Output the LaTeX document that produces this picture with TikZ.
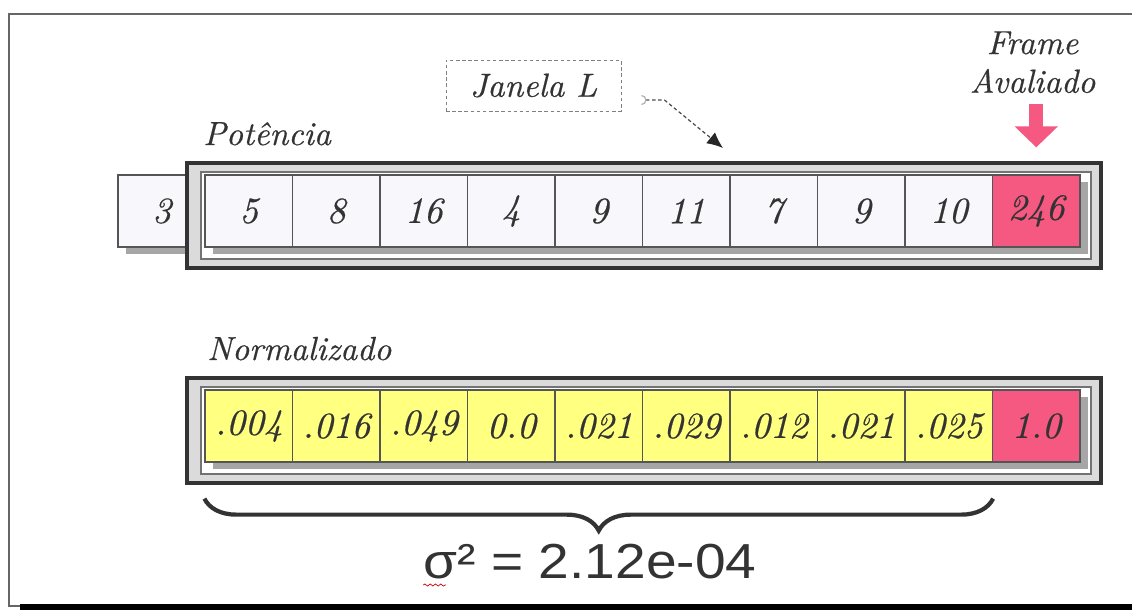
\documentclass[tikz,border=0pt]{standalone}
\usepackage{fontspec}
\setmainfont{lmroman10-regular.otf}[ItalicFont=lmroman10-italic.otf, ItalicFeatures={FakeBold=0.5}]
\newfontfamily\sigmafont{Liberation Sans}[FakeStretch=1.12]
\usetikzlibrary{positioning,shadows,arrows.meta,decorations.pathreplacing,decorations.pathmorphing}

\definecolor{celfundo}{RGB}{248,248,252}
\definecolor{amarelo}{RGB}{255,255,128}
\definecolor{rosa}{RGB}{245,88,128}
\definecolor{borda}{RGB}{85,85,85}

\tikzset{
  cel/.style={draw=borda, line width=0.7pt, fill=celfundo,
    minimum width=1.75cm, minimum height=1.44cm, inner sep=0pt,
    font=\fontsize{21}{25}\selectfont\itshape, text=black!80,
    drop shadow={shadow xshift=0.16cm, shadow yshift=-0.13cm, fill=gray!70, opacity=1}},
  rotulo/.style={font=\fontsize{19}{22}\selectfont\itshape, text=black!80, inner sep=0pt},
  moldura/.style={draw=black!80, line width=1.8pt, fill=gray!28},
  molduraint/.style={draw=black!55, line width=0.6pt, fill=white},
}

\begin{document}
\begin{tikzpicture}
\useasboundingbox (0,0) rectangle (22.64,-12.2);

% page border
\draw[gray!80!black, line width=0.8pt] (22.64,-0.28) -- (0.18,-0.28) -- (0.18,-12.12) -- (0.4,-12.12);
\fill[black] (0.4,-12.08) rectangle (22.64,-12.2);

% sample that has left the window
\node[cel] (p0) at (3.235,-4.22) {3};

% window frames
\foreach \y in {0,-4.3} {
  \draw[moldura] (3.74,-3.26+\y) rectangle (22.02,-5.36+\y);
  \draw[molduraint] (4.02,-3.44+\y) rectangle (21.82,-5.18+\y);
}

% power values
\foreach \v/\c [count=\i] in {5/celfundo,8/celfundo,16/celfundo,4/celfundo,9/celfundo,11/celfundo,7/celfundo,9/celfundo,10/celfundo,246/rosa}
  \node[cel, fill=\c] (p\i) at ({4.975+1.75*(\i-1)},-4.22) {\v};

% normalized values
\foreach \v/\c [count=\i] in {.004/amarelo,.016/amarelo,.049/amarelo,0.0/amarelo,.021/amarelo,.029/amarelo,.012/amarelo,.021/amarelo,.025/amarelo,1.0/rosa}
  \node[cel, fill=\c] (n\i) at ({4.975+1.75*(\i-1)},-8.52) {\v};

\node[rotulo, anchor=base west] (potencia) at (4.06,-2.9) {Potência};
\node[rotulo, anchor=base west] (normal) at (4.14,-7.2) {Normalizado};

% window label
\node[rotulo, draw=gray, dash pattern=on 2pt off 1.5pt, line width=0.5pt,
  minimum width=3.5cm, minimum height=1.02cm] (janela) at (10.67,-1.71) {Janela L};
\coordinate (alvo) at (14.46,-2.96);
\draw[black!70, line width=0.7pt, dash pattern=on 2pt off 1.5pt,
  {Arc Barb[reversed, color=gray!60]}-{Latex[length=0.32cm, width=0.28cm, color=black!85]}]
  ([xshift=0.4cm, yshift=-0.29cm]janela.east) -- ++(0.46,0) -- (alvo);

% evaluated frame
\node[rotulo, align=center, anchor=north] (avaliado) at (20.65,-0.62) {Frame\\Avaliado};
\draw[rosa, line width=0.28cm, -{Triangle[length=0.42cm, width=0.84cm]}]
  ([yshift=1.4cm]p10.north) -- ([yshift=0.54cm]p10.north);

% variance of the window
\draw[decorate, decoration={brace, mirror, amplitude=0.64cm}, line width=2.4pt, black!80]
  ([yshift=-0.72cm]n1.south west) -- ([yshift=-0.72cm]n9.south east);
\node[font=\sigmafont\fontsize{28}{32}\selectfont, text=black!80, anchor=base, inner sep=0pt] (sigma) at (11.8,-11.56) {σ² = 2.12e-04};
\draw[red!80!black, line width=0.4pt, decorate, decoration={snake, amplitude=0.6pt, segment length=3pt}]
  ([yshift=-0.14cm]sigma.base west) -- ++(0.45,0);
\end{tikzpicture}
\end{document}
